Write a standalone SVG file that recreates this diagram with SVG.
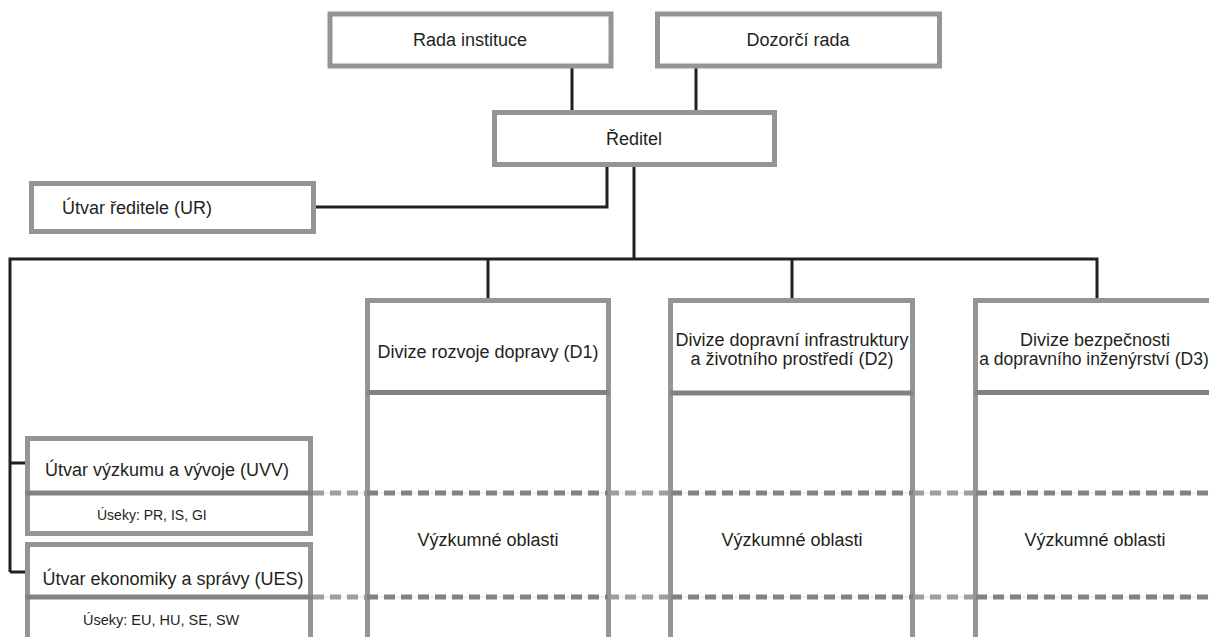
<svg xmlns="http://www.w3.org/2000/svg" width="1209" height="637" viewBox="0 0 1209 637">
<style>
.box{fill:#fff;stroke:#939598;stroke-width:5}
.col{fill:none;stroke:#939598;stroke-width:5}
.div{stroke:#808285;stroke-width:5}
.con{fill:none;stroke:#231f20;stroke-width:3}
.dashIn{stroke:#808285;stroke-width:5;stroke-dasharray:11 6}
.dashOut{stroke:#9d9fa2;stroke-width:5;stroke-dasharray:11 6}
.thin{stroke:#e4e4e4;stroke-width:1}
text{font-family:"Liberation Sans",Arial,sans-serif;font-size:18px;fill:#231f20}
.m{text-anchor:middle}
.s{font-size:14px}
</style>
<rect width="1209" height="637" fill="#fff"/>
<g id="connectors">
<path class="con" d="M572 68V111M696 68V111"/>
<path class="con" d="M607 166V207H316"/>
<path class="con" d="M634 166V259"/>
<path class="con" d="M10 572V259H1097V299M488 259V299M792 259V299"/>
<path class="con" d="M10 463H26M10 572H26"/>
</g>
<g id="rada"><rect class="box" x="330" y="14" width="281" height="52"/><text class="m" x="470" y="46">Rada instituce</text></g>
<g id="dozorci"><rect class="box" x="657.5" y="14" width="282" height="52"/><text class="m" x="798" y="46">Dozorčí rada</text></g>
<g id="reditel"><rect class="box" x="494.5" y="112.5" width="280" height="52"/><text class="m" x="634" y="145">Ředitel</text></g>
<g id="ur"><rect class="box" x="31.5" y="183.5" width="282" height="48"/><text x="62" y="214">Útvar ředitele (UR)</text></g>
<g id="dashes">
<path class="thin" d="M313 493H1209M313 597H1209"/>
<path class="dashOut" d="M313 493H367M608 493H671M913 493H976M313 597H367M608 597H671M913 597H976"/>
</g>
<g id="d1">
<path class="col" d="M367.5 640V300.5H608.5V640"/>
<line class="div" x1="367" y1="392.5" x2="609" y2="392.5"/>
<text class="m" x="488" y="358">Divize rozvoje dopravy (D1)</text>
<text class="m" x="488" y="546">Výzkumné oblasti</text>
</g>
<g id="d2">
<path class="col" d="M670.5 640V300.5H912.5V640"/>
<line class="div" x1="670" y1="393" x2="913" y2="393"/>
<text class="m" x="792" y="346">Divize dopravní infrastruktury</text>
<text class="m" x="792" y="365">a životního prostředí (D2)</text>
<text class="m" x="792" y="546">Výzkumné oblasti</text>
</g>
<g id="d3">
<path class="col" d="M975.5 640V300.5H1222V640"/>
<line class="div" x1="975" y1="392.5" x2="1222" y2="392.5"/>
<text class="m" x="1095" y="346">Divize bezpečnosti</text>
<text class="m" x="1094" y="365" style="font-size:17.5px">a dopravního inženýrství (D3)</text>
<text class="m" x="1095" y="546">Výzkumné oblasti</text>
</g>
<g id="dashes-in">
<path class="dashIn" d="M367 493H608M671 493H913M976 493H1209M367 597H608M671 597H913M976 597H1209"/>
</g>
<g id="uvv">
<rect class="box" x="27.5" y="438.5" width="283" height="95"/>
<line class="div" x1="25" y1="493" x2="313" y2="493"/>
<text class="m" x="167" y="476">Útvar výzkumu a vývoje (UVV)</text>
<text class="s" x="97" y="520">Úseky: PR, IS, GI</text>
</g>
<g id="ues">
<rect class="box" x="27.5" y="544.5" width="283" height="100"/>
<line class="div" x1="25" y1="597" x2="313" y2="597"/>
<text class="m" x="173" y="585">Útvar ekonomiky a správy (UES)</text>
<text class="s" x="83" y="625" style="font-size:14.5px">Úseky: EU, HU, SE, SW</text>
</g>
</svg>
